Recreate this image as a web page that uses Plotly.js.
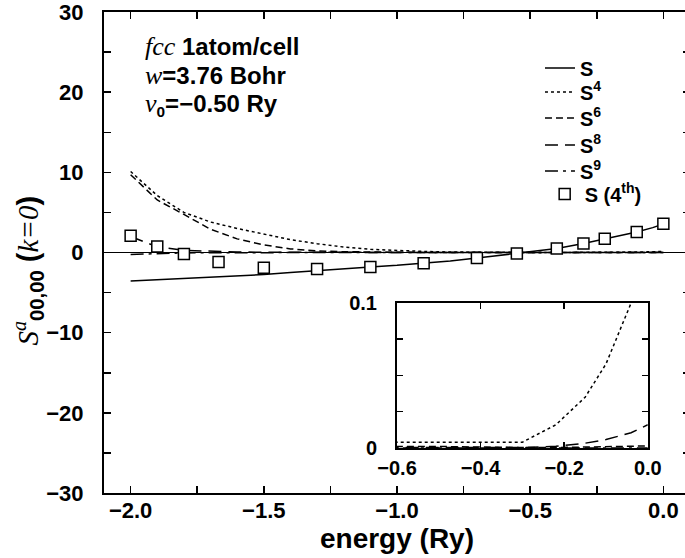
<!DOCTYPE html>
<html>
<head>
<meta charset="utf-8">
<script src="https://cdn.plot.ly/plotly-3.0.1.min.js"></script>
<style>
html,body{margin:0;padding:0;overflow:hidden;background:#fff;}
#chart{width:690px;height:558px;}
</style>
</head>
<body>
<div id="chart"></div>
<script>
// energy grid (Ry) for the curves
const energy = [-2.0,-1.9,-1.8,-1.7,-1.6,-1.5,-1.4,-1.3,-1.2,-1.1,-1.0,-0.9,-0.8,-0.7,-0.6,-0.5,-0.4,-0.3,-0.22,-0.15,-0.1,-0.04,0.0];
// S (full)
const sFull = [-3.55,-3.4,-3.25,-3.1,-2.95,-2.75,-2.5,-2.25,-2.0,-1.8,-1.6,-1.35,-1.05,-0.7,-0.32,0.08,0.5,1.12,1.7,2.2,2.55,3.1,3.55];
// S^4
const s4 = [10.1,7.1,5.0,3.8,3.0,2.3,1.6,1.1,0.68,0.4,0.25,0.13,0.06,0.02,0.004,0.004,0.004,0.004,0.016,0.035,0.058,0.1,0.135];
// S^6
const s6 = [9.7,6.55,4.75,2.9,1.7,0.95,0.45,0.2,0.1,0.05,0.02,0.01,0.004,0.002,0.001,0.001,0.0005,0.0003,0.0003,0.0005,0.0008,0.0012,0.0015];
// S^8
const s8 = [2.0,0.7,0.27,0.12,0.06,0.03,0.015,0.008,0.004,0.002,0.001,0.0006,0.0004,0.0003,0.0003,0.0003,0.0003,0.0003,0.0012,0.0033,0.0058,0.0105,0.016];
// S^9
const s9 = [-0.25,-0.12,-0.05,-0.02,-0.01,-0.005,-0.002,-0.001,0,0,0,0,0,0,0,0,0,0,0,0,0,0,0];
// S (4th) squares
const eSq = [-2.0,-1.9,-1.8,-1.67,-1.5,-1.3,-1.1,-0.9,-0.7,-0.55,-0.4,-0.3,-0.22,-0.1,0.0];
const sq4th = [2.1,0.75,-0.2,-1.2,-1.9,-2.05,-1.8,-1.35,-0.7,-0.12,0.5,1.12,1.7,2.55,3.6];

const names = ['S','S<sup>4</sup>','S<sup>6</sup>','S<sup>8</sup>','S<sup>9</sup>','S (4<sup>th</sup>)'];
const series = [sFull,s4,s6,s8,s9];
const dashes = ['solid','dot','7px,4px','13px,7px','13px,5px,3px,5px'];
const legIds = ['legend','legend2','legend3','legend4','legend5','legend6'];

const traces = [];
series.forEach((ys,i)=>{
  traces.push({x:energy,y:ys,type:'scatter',mode:'lines',name:names[i],legend:legIds[i],
    line:{color:'black',width:1.5,dash:dashes[i]},xaxis:'x',yaxis:'y'});
});
traces.push({x:eSq,y:sq4th,type:'scatter',mode:'markers',name:names[5],legend:legIds[5],
  marker:{symbol:'square',size:11,color:'white',line:{color:'black',width:1.5}},xaxis:'x',yaxis:'y'});
// inset
[1,2,3,4].forEach(i=>{
  traces.push({x:energy,y:series[i],type:'scatter',mode:'lines',showlegend:false,
    line:{color:'black',width:1.5,dash:dashes[i]},xaxis:'x2',yaxis:'y2'});
});

const FAM = 'Liberation Sans, Arial, sans-serif';
const tickF = {family:FAM,size:22,color:'black',weight:'bold'};
const insetF = {family:FAM,size:20,color:'black',weight:'bold'};
const legF = {family:FAM,size:20,color:'black',weight:'bold'};
const serif = "font-family:'Liberation Serif',serif;font-weight:normal;color:black";
const serifL = "font-family:'Liberation Serif',serif;font-weight:normal;color:black;font-size:26px";
const boldL = "font-size:24px";

// legend rows (paper y of row centres)
const legY = [0.8836,0.8337,0.7796,0.7235,0.6695,0.6216];
const legX = [0.744,0.744,0.744,0.744,0.744,0.752];

const infoText =
  "<span style=\""+serifL+"\"><i>fcc</i></span><span style=\""+boldL+"\"><b> 1atom/cell</b></span><br>" +
  "<span style=\""+serifL+"\"><i>w</i></span><span style=\""+boldL+"\"><b>=3.76 Bohr</b></span><br>" +
  "<span style=\""+serifL+"\"><i>v</i></span><sub><b>0</b></sub><span style=\""+boldL+"\"><b>=\u22120.50 Ry</b></span>";

const layout = {
  width:690,height:558,
  margin:{l:104,r:0,t:12,b:65},
  paper_bgcolor:'white',plot_bgcolor:'white',
  showlegend:true,
  xaxis:{domain:[0,1],range:[-2.1,0.1],dtick:0.5,tick0:0,tickformat:'.1f',
    ticks:'inside',ticklen:7,tickwidth:1.5,tickcolor:'black',
    minor:{dtick:0.25,ticks:'inside',ticklen:7,tickwidth:1.5,tickcolor:'black'},
    showline:true,linewidth:2,linecolor:'black',mirror:'ticks',
    showgrid:false,zeroline:false,tickfont:tickF,ticklabelstandoff:-3,ticklabeloverflow:'allow',
    title:{text:'energy (Ry)',font:{family:FAM,size:28,color:'black',weight:'bold'},standoff:2},
    anchor:'y'},
  yaxis:{domain:[0,1],range:[-30,30],dtick:10,
    ticks:'inside',ticklen:7,tickwidth:1.5,tickcolor:'black',
    minor:{dtick:5,ticks:'inside',ticklen:7,tickwidth:1.5,tickcolor:'black'},
    showline:true,linewidth:2,linecolor:'black',mirror:'ticks',
    showgrid:false,zeroline:true,zerolinecolor:'black',zerolinewidth:1,
    tickfont:tickF,ticklabelstandoff:14,ticklabeloverflow:'allow',anchor:'x'},
  xaxis2:{domain:[0.5,0.928],range:[-0.6,0.0],dtick:0.2,tick0:0,tickformat:'.1f',anchor:'y2',
    ticks:'inside',ticklen:6,tickwidth:1.5,tickcolor:'black',
    showline:true,linewidth:2,linecolor:'black',mirror:'ticks',
    showgrid:false,zeroline:false,tickfont:insetF,ticklabelstandoff:1,ticklabeloverflow:'allow'},
  yaxis2:{domain:[0.0936,0.395],range:[0,0.1],anchor:'x2',
    tickvals:[0,0.025,0.05,0.075,0.1],ticktext:['0','','','','0.1'],
    ticks:'inside',ticklen:6,tickwidth:1.5,tickcolor:'black',
    showline:true,linewidth:2,linecolor:'black',mirror:'ticks',
    showgrid:false,zeroline:false,tickfont:insetF,ticklabelstandoff:14,ticklabeloverflow:'allow'},
  annotations:[
    {xref:'paper',yref:'paper',x:0.0666,y:0.867,xanchor:'left',yanchor:'middle',align:'left',showarrow:false,
     font:{family:FAM,size:22,color:'black'},text:infoText},
    {xref:'paper',yref:'paper',x:-0.13,y:0.462,xanchor:'center',yanchor:'middle',showarrow:false,textangle:-90,
     font:{family:FAM,size:29,color:'black'},
     text:"<span style=\""+serif+"\"><i>S</i></span><sup><span style=\""+serif+"\"><i>a</i></span></sup><sub><b>00,00</b></sub> <b>(</b><span style=\""+serif+"\"><i>k=0</i></span><b>)</b>"}
  ]
};
legIds.forEach((id,i)=>{
  layout[id] = {x:legX[i],y:legY[i],xanchor:'left',yanchor:'middle',bgcolor:'rgba(0,0,0,0)',
    borderwidth:0,font:legF};
});

Plotly.newPlot('chart',traces,layout,{displayModeBar:false,staticPlot:true});
</script>
</body>
</html>
